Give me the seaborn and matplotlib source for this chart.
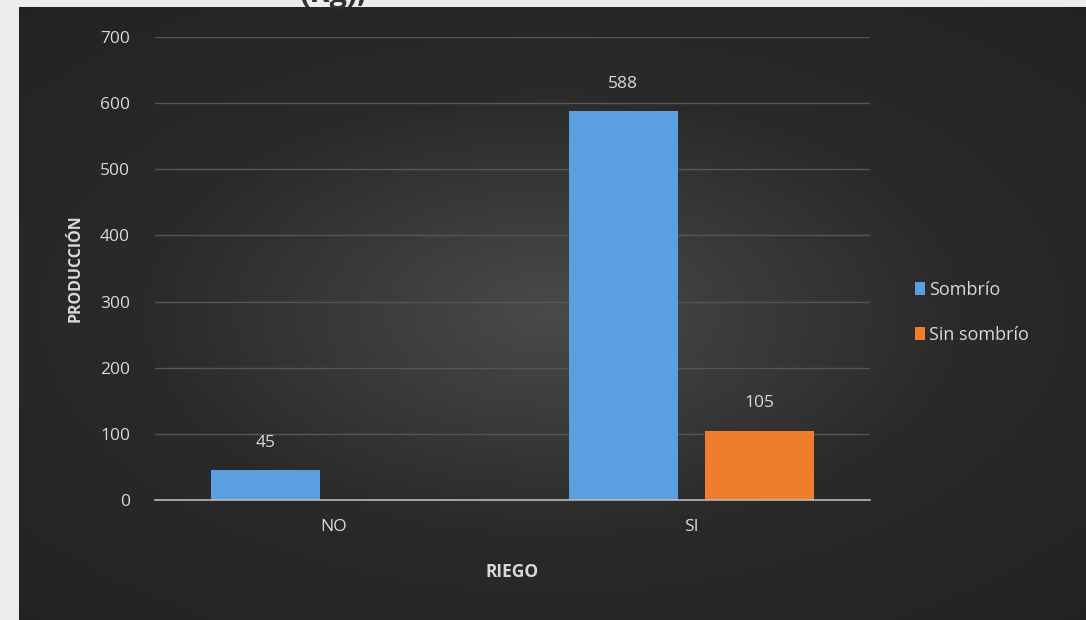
import numpy as np
import pandas as pd
import seaborn as sns
import matplotlib.pyplot as plt
from matplotlib.colors import LinearSegmentedColormap

# data
riego = ["NO", "SI"]
sombrio = [45, 588]
sin_sombrio = [np.nan, 105]
series = ["Sombrío", "Sin sombrío"]
colors = ["#5b9fe0", "#f07d2c"]

df = pd.DataFrame({
    "RIEGO": riego * 2,
    "valor": sombrio + sin_sombrio,
    "serie": [series[0]] * 2 + [series[1]] * 2,
})

sns.set_theme(style="dark")
plt.rcParams["font.family"] = ["Open Sans", "DejaVu Sans"]

fig = plt.figure(figsize=(10.86, 6.2), dpi=100, facecolor="#ececec")

# dark radial gradient panel behind the chart
bg = fig.add_axes([19 / 1086, 0, 1 - 19 / 1086, 613 / 620])
yy, xx = np.mgrid[-1:1:300j, -1:1:500j]
r = np.sqrt((xx * 0.85) ** 2 + (yy * 0.9) ** 2)
dark = LinearSegmentedColormap.from_list("dk", ["#4a4a4a", "#2a2a2a", "#222222"])
bg.imshow(r, cmap=dark, vmin=0, vmax=1.3, aspect="auto", extent=[0, 1, 0, 1])
bg.set_axis_off()

# title cut off at the top edge (only its lower part is visible)
fig.text(300 / 1086, 1 + 6 / 620, "(Kg),", fontsize=22, fontweight="bold",
         color="#303030", ha="left", va="center", zorder=0)

ax = fig.add_axes([155 / 1086, 120 / 620, 715 / 1086, 463 / 620])
ax.patch.set_alpha(0)
sns.barplot(data=df, x="RIEGO", y="valor", hue="serie", order=riego,
            hue_order=series, palette=colors, width=0.76, gap=0.2,
            saturation=1, linewidth=0, ax=ax, legend=True)

for cont in ax.containers:
    ax.bar_label(cont, fmt="%.0f", padding=14, color="#d9d9d9", fontsize=12.5)

ax.set_ylim(0, 700)
ax.set_xlim(-0.5, 1.5)
ax.set_yticks(range(0, 701, 100))
ax.grid(axis="y", color="#565656", linewidth=1)
ax.grid(axis="x", visible=False)
for s in ["top", "right", "left"]:
    ax.spines[s].set_visible(False)
ax.spines["bottom"].set_color("#b8b8b8")
ax.spines["bottom"].set_linewidth(1.2)
ax.tick_params(colors="#d9d9d9", labelsize=12.5, length=0)
ax.tick_params(axis="y", pad=18)
ax.tick_params(axis="x", pad=14)

ax.set_xlabel("RIEGO", color="#d9d9d9", fontsize=12.5, fontweight="bold",
              labelpad=20)
ax.set_ylabel("PRODUCCIÓN", color="#d9d9d9", fontsize=11.5, fontweight="bold",
              labelpad=12)

leg = ax.legend(loc="center left", bbox_to_anchor=(1.04, 0.405), frameon=False,
                fontsize=13, handlelength=0.55, handleheight=0.75,
                handletextpad=0.25, labelspacing=1.5)
for t in leg.get_texts():
    t.set_color("#d9d9d9")

fig.savefig("out.png", dpi=100, facecolor=fig.get_facecolor())
